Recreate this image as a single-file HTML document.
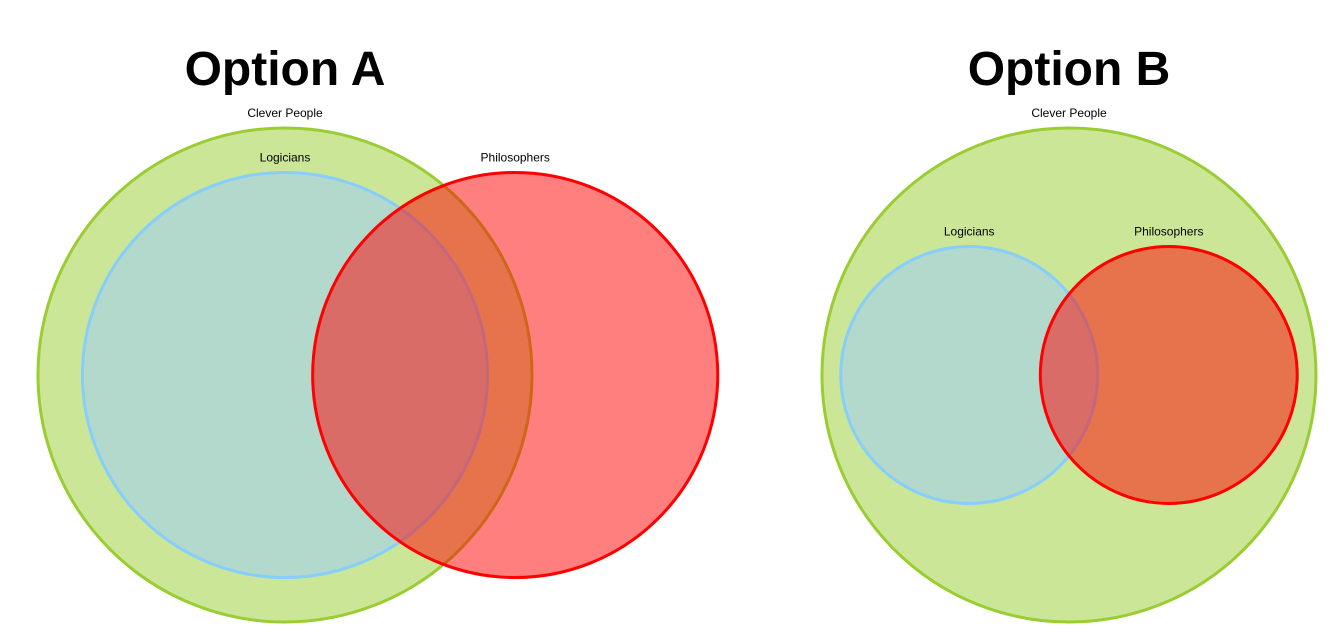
<!DOCTYPE html>
<html><head><meta charset="utf-8">
<style>
html,body{margin:0;padding:0;background:#fff;width:1342px;height:639px;overflow:hidden}
svg{display:block}
text{font-family:"Liberation Sans",Arial,sans-serif}
</style></head>
<body>
<svg id="chart" width="1342" height="639" viewBox="0 0 1342 639"></svg>
<script>
// Data (units: set centers and radii in a 0..100 domain per panel)
const panelTitles = ["Option A", "Option B"];
const setNames = ["Clever People", "Logicians", "Philosophers"];
const panelA_cx = [50, 50, 96.6];
const panelA_r  = [50, 41, 41];
const panelB_cx = [50, 29.8, 70.2];
const panelB_r  = [50, 26, 26];
const fills   = ["rgba(154,205,50,0.5)", "rgba(153,204,255,0.5)", "rgba(255,0,0,0.5)"];
const strokes = ["#9acd32", "#87cefa", "#ff0000"];

const svg = document.getElementById('chart');
const NS = "http://www.w3.org/2000/svg";
const unit = 4.94;           // px per data unit
const panelOrigin = [38, 822];
const cy = 375;
function xScale(p, v){ return panelOrigin[p] + v * unit; }
function rScale(v){ return v * unit; }

const panels = [[panelA_cx, panelA_r],[panelB_cx, panelB_r]];
panels.forEach((pd, p) => {
  const g = document.createElementNS(NS, 'g');
  
  
  svg.appendChild(g);
  const title = document.createElementNS(NS, 'text');
  
  
  title.setAttribute('x', xScale(p, 50));
  title.setAttribute('y', 85);
  title.setAttribute('text-anchor', 'middle');
  title.setAttribute('font-size', '48');
  title.setAttribute('font-weight', 'bold');
  title.textContent = panelTitles[p];
  g.appendChild(title);
  pd[0].forEach((cx, i) => {
    const c = document.createElementNS(NS, 'circle');
    
    
    c.setAttribute('cx', xScale(p, cx));
    c.setAttribute('cy', cy);
    c.setAttribute('r', rScale(pd[1][i]));
    c.setAttribute('fill', fills[i]);
    c.setAttribute('stroke', strokes[i]);
    c.setAttribute('stroke-width', '3');
    g.appendChild(c);
  });
  pd[0].forEach((cx, i) => {
    const t = document.createElementNS(NS, 'text');
    
    
    t.setAttribute('x', xScale(p, cx));
    t.setAttribute('y', cy - rScale(pd[1][i]) - 11);
    t.setAttribute('text-anchor', 'middle');
    t.setAttribute('font-size', '12');
    t.textContent = setNames[i];
    g.appendChild(t);
  });
});
</script>
</body></html>
